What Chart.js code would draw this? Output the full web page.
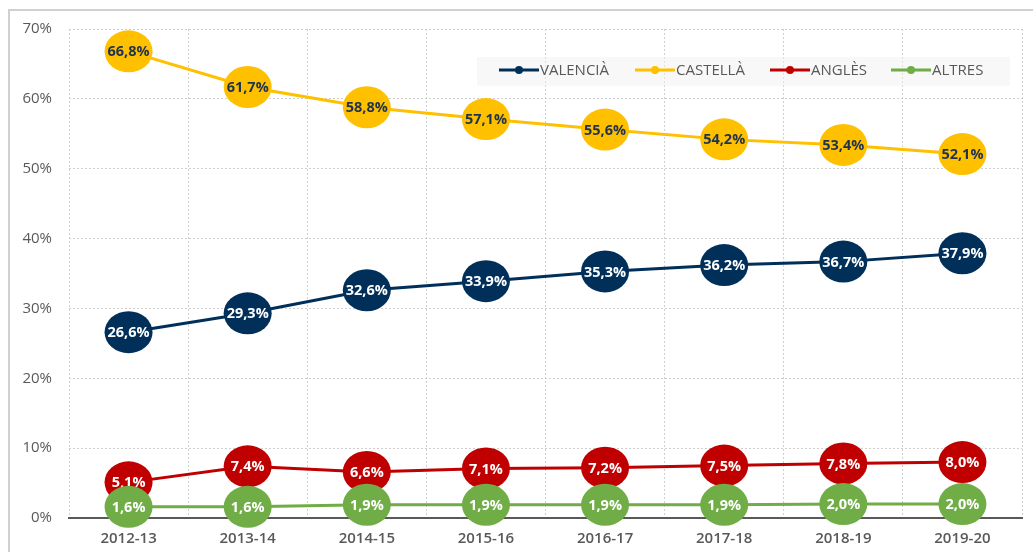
<!DOCTYPE html>
<html>
<head>
<meta charset="utf-8">
<script src="https://cdn.jsdelivr.net/npm/chart.js@4.4.1/dist/chart.umd.min.js"></script>
<style>
  html, body { margin: 0; padding: 0; background: #fff; }
  #wrap { position: relative; width: 1033px; height: 552px; }
</style>
</head>
<body>
<div id="wrap"><canvas id="chart" width="1033" height="552"></canvas></div>
<script>
// data
const cursos = ['2012-13', '2013-14', '2014-15', '2015-16', '2016-17', '2017-18', '2018-19', '2019-20'];
const valencia = [26.6, 29.3, 32.6, 33.9, 35.3, 36.2, 36.7, 37.9];
const castella = [66.8, 61.7, 58.8, 57.1, 55.6, 54.2, 53.4, 52.1];
const angles = [5.1, 7.4, 6.6, 7.1, 7.2, 7.5, 7.8, 8.0];
const altres = [1.6, 1.6, 1.9, 1.9, 1.9, 1.9, 2.0, 2.0];
const seriesNames = ['VALENCIÀ', 'CASTELLÀ', 'ANGLÈS', 'ALTRES'];

const colors = ['#00305A', '#FFC000', '#C00000', '#70AD47'];
const labelColors = ['#ffffff', '#1F3350', '#ffffff', '#ffffff'];

const fmt = v => v.toFixed(1).replace('.', ',') + '%';

// ellipse labels + legend + frame
const decorPlugin = {
  id: 'decor',
  beforeDraw(chart) {
    const c = chart.ctx;
    c.save();
    c.fillStyle = '#d0d0d0';
    c.fillRect(8, 9, chart.width, 2);
    c.fillRect(8, 9, 2, chart.height);
    c.restore();
  },
  afterDatasetsDraw(chart) {
    const c = chart.ctx;
    c.save();
    chart.data.datasets.forEach((ds, i) => {
      const meta = chart.getDatasetMeta(i);
      meta.data.forEach((pt, j) => {
        c.beginPath();
        c.ellipse(pt.x, pt.y, 24, 21, 0, 0, Math.PI * 2);
        c.fillStyle = colors[i];
        c.fill();
        c.fillStyle = labelColors[i];
        c.font = 'bold 14.5px "Open Sans"';
        c.textAlign = 'center';
        c.textBaseline = 'middle';
        c.fillText(fmt(ds.data[j]), pt.x, pt.y + 1);
      });
    });

    // legend box inside the plot
    c.fillStyle = 'rgba(242,242,242,0.5)';
    c.fillRect(477, 57, 533, 29);
    const startX = [499, 635, 770, 891];
    const ly = 70;
    c.font = '15px "Open Sans"';
    c.textAlign = 'left';
    c.textBaseline = 'middle';
    seriesNames.forEach((name, i) => {
      const x = startX[i];
      c.strokeStyle = colors[i];
      c.lineWidth = 3;
      c.beginPath();
      c.moveTo(x, ly);
      c.lineTo(x + 40, ly);
      c.stroke();
      c.beginPath();
      c.arc(x + 20, ly, 4, 0, Math.PI * 2);
      c.fillStyle = colors[i];
      c.fill();
      c.fillStyle = '#595959';
      c.fillText(name, x + 41, ly + 1);
    });
    c.restore();
  }
};

const mkSet = (label, data, i) => ({
  label: label,
  data: data,
  borderColor: colors[i],
  backgroundColor: colors[i],
  borderWidth: 3,
  pointRadius: 0,
  pointHoverRadius: 0,
  tension: 0,
  fill: false
});

new Chart(document.getElementById('chart').getContext('2d'), {
  type: 'line',
  data: {
    labels: cursos,
    datasets: [
      mkSet(seriesNames[0], valencia, 0),
      mkSet(seriesNames[1], castella, 1),
      mkSet(seriesNames[2], angles, 2),
      mkSet(seriesNames[3], altres, 3)
    ]
  },
  options: {
    responsive: false,
    animation: false,
    layout: { padding: { top: 29, right: 11, bottom: 0, left: 0 } },
    plugins: {
      legend: { display: false },
      tooltip: { enabled: false }
    },
    scales: {
      x: {
        offset: true,
        grid: { offset: true, color: '#cfcfcf', drawTicks: false },
        border: { display: true, color: '#595959', width: 2, dash: [2, 2] },
        ticks: { color: '#595959', font: { family: '"Open Sans"', size: 15, weight: '600' }, padding: 12 },
        afterFit(scale) { scale.height = 34; }
      },
      y: {
        min: 0,
        max: 70,
        grid: { color: '#cfcfcf', drawTicks: false },
        border: { display: false, dash: [2, 2] },
        ticks: {
          stepSize: 10,
          color: '#595959',
          font: { family: '"Open Sans"', size: 15 },
          padding: 17,
          callback: v => v + '%'
        },
        afterFit(scale) { scale.width = 69; }
      }
    }
  },
  plugins: [decorPlugin]
});
</script>
</body>
</html>
